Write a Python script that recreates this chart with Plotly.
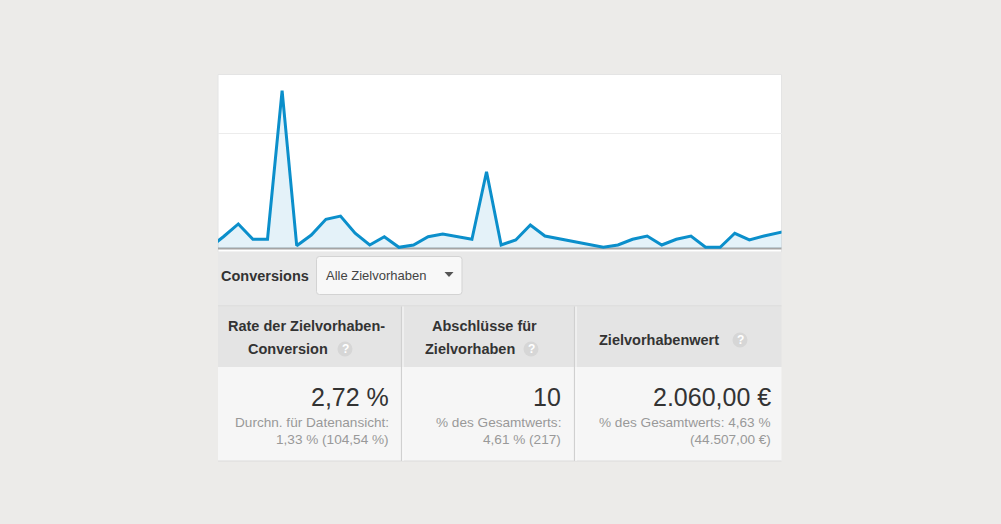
import plotly.graph_objects as go

# ---------------- data ----------------
days = list(range(-1, 40))
conversion_rate = [0.0, 1.0, 2.09, 0.76, 0.76, 13.68, 0.2, 1.13, 2.5, 2.78,
                   1.28, 0.26, 0.98, 0.06, 0.26, 0.98, 1.22, 0.98, 0.76, 6.63,
                   0.26, 0.70, 2.0, 1.04, 0.79, 0.54, 0.29, 0.06, 0.26, 0.76,
                   1.04, 0.26, 0.76, 1.04, 0.06, 0.06, 1.28, 0.70, 1.04, 1.28,
                   1.6]
grid_values = [10]

toolbar_label = "Conversions"
dropdown_label = "Alle Zielvorhaben"
col_headers = [["Rate der Zielvorhaben-", "Conversion"],
               ["Abschlüsse für", "Zielvorhaben"],
               ["Zielvorhabenwert"]]
col_values = ["2,72 %", "10", "2.060,00 €"]
col_sub1 = ["Durchn. für Datenansicht:", "% des Gesamtwerts:", "% des Gesamtwerts: 4,63 %"]
col_sub2 = ["1,33 % (104,54 %)", "4,61 % (217)", "(44.507,00 €)"]

W, H = 1001, 524
FONT = "Liberation Sans, Arial, sans-serif"


def px(x):
    return x / W


def py(y):
    return 1 - y / H


fig = go.Figure()
fig.add_trace(go.Scatter(
    x=days, y=conversion_rate, mode="lines",
    line=dict(color="#0b8fcb", width=3),
    fill="tozeroy", fillcolor="rgba(5,141,199,0.11)",
    hoverinfo="skip", showlegend=False,
))

shapes = []


def rect(x0, y0, x1, y1, fill, line_color=None, lw=0):
    shapes.append(dict(type="rect", xref="paper", yref="paper",
                       x0=px(x0), x1=px(x1), y0=py(y1), y1=py(y0),
                       fillcolor=fill, line=dict(width=lw, color=line_color or fill),
                       layer="below"))


def hline(x0, x1, y, color, lw=1):
    shapes.append(dict(type="line", xref="paper", yref="paper",
                       x0=px(x0), x1=px(x1), y0=py(y), y1=py(y),
                       line=dict(color=color, width=lw), layer="below"))


def vline(x, y0, y1, color, lw=1):
    shapes.append(dict(type="line", xref="paper", yref="paper",
                       x0=px(x), x1=px(x), y0=py(y0), y1=py(y1),
                       line=dict(color=color, width=lw), layer="below"))


# chart panel
rect(218, 74.5, 781.5, 252, "#ffffff", "#e4e4e4", 1)
hline(218, 781.5, 248.5, "#a5a5a5", 2)
# toolbar
rect(218, 252, 781.5, 306, "#e8e8e8")
hline(218, 781.5, 306, "#d6d6d6", 1)
# header row and value row
rect(218, 306.5, 781.5, 367, "#e4e4e4")
rect(218, 367, 781.5, 461, "#f6f6f6")
hline(218, 781.5, 461, "#dcdcdc", 1)
for xd in (401.5, 574.5):
    vline(xd, 306.5, 461, "#d0d0d0", 1.2)
    vline(xd + 1.5, 306.5, 461, "#fafafa", 1)

# dropdown button (rounded)
x0, x1, y0, y1, r = 316.5, 462, 256.5, 294.5, 3
path = (f"M {px(x0 + r)} {py(y0)} L {px(x1 - r)} {py(y0)} Q {px(x1)} {py(y0)} {px(x1)} {py(y0 + r)} "
        f"L {px(x1)} {py(y1 - r)} Q {px(x1)} {py(y1)} {px(x1 - r)} {py(y1)} "
        f"L {px(x0 + r)} {py(y1)} Q {px(x0)} {py(y1)} {px(x0)} {py(y1 - r)} "
        f"L {px(x0)} {py(y0 + r)} Q {px(x0)} {py(y0)} {px(x0 + r)} {py(y0)} Z")
shapes.append(dict(type="path", xref="paper", yref="paper", path=path,
                   fillcolor="#f8f8f8", line=dict(color="#d3d3d3", width=1), layer="above"))
# dropdown triangle
tri = f"M {px(444.5)} {py(272)} L {px(453.5)} {py(272)} L {px(449)} {py(277)} Z"
shapes.append(dict(type="path", xref="paper", yref="paper", path=tri,
                   fillcolor="#555555", line=dict(width=0), layer="above"))

annotations = []


def text(s, x, y, size, color, anchor="left", bold=False):
    annotations.append(dict(text=f"<b>{s}</b>" if bold else s, xref="paper", yref="paper",
                            x=px(x), y=py(y), xanchor=anchor, yanchor="middle",
                            showarrow=False, borderpad=0, borderwidth=0,
                            font=dict(family=FONT, size=size, color=color)))


def qmark(x, y):
    rr = 7.5
    shapes.append(dict(type="circle", xref="paper", yref="paper",
                       x0=px(x - rr), x1=px(x + rr), y0=py(y + rr), y1=py(y - rr),
                       fillcolor="#d6d6d6", line=dict(width=0), layer="above"))
    text("?", x, y, 12, "#ffffff", anchor="center", bold=True)


text(toolbar_label, 221, 276, 14.5, "#333333", bold=True)
text(dropdown_label, 326, 275, 13, "#444444")

HC = "#333333"
text(col_headers[0][0], 306, 325.5, 14.5, HC, anchor="center", bold=True)
text(col_headers[0][1], 248, 349, 14.5, HC, bold=True)
qmark(345, 349)
text(col_headers[1][0], 432, 325.5, 14.5, HC, bold=True)
text(col_headers[1][1], 424.5, 349, 14.5, HC, bold=True)
qmark(531, 349)
text(col_headers[2][0], 599, 340, 14.5, HC, bold=True)
qmark(740, 340)

rights = [389, 561, 771]
for i, xr in enumerate(rights):
    text(col_values[i], xr, 397, 25, "#333333", anchor="right")
    text(col_sub1[i], xr, 422.5, 13.6, "#999999", anchor="right")
    text(col_sub2[i], xr, 439.5, 13.6, "#999999", anchor="right")

fig.update_layout(
    width=W, height=H, autosize=False,
    margin=dict(l=0, r=0, t=0, b=0),
    paper_bgcolor="#ecebe9",
    plot_bgcolor="rgba(0,0,0,0)",
    shapes=shapes, annotations=annotations,
    xaxis=dict(domain=[px(218), px(781.5)], range=[-0.39, 38.2],
               showgrid=False, zeroline=False, showticklabels=False, showline=False,
               fixedrange=True),
    yaxis=dict(domain=[py(249), py(74.5)], range=[-0.087, 15.09],
               tickvals=grid_values, showgrid=True, gridcolor="#ececec", gridwidth=1,
               zeroline=False, showticklabels=False, showline=False, fixedrange=True),
    hovermode=False,
)

fig.write_html("out.html", config={"displayModeBar": False},
               post_script="document.body.style.margin='0';")
